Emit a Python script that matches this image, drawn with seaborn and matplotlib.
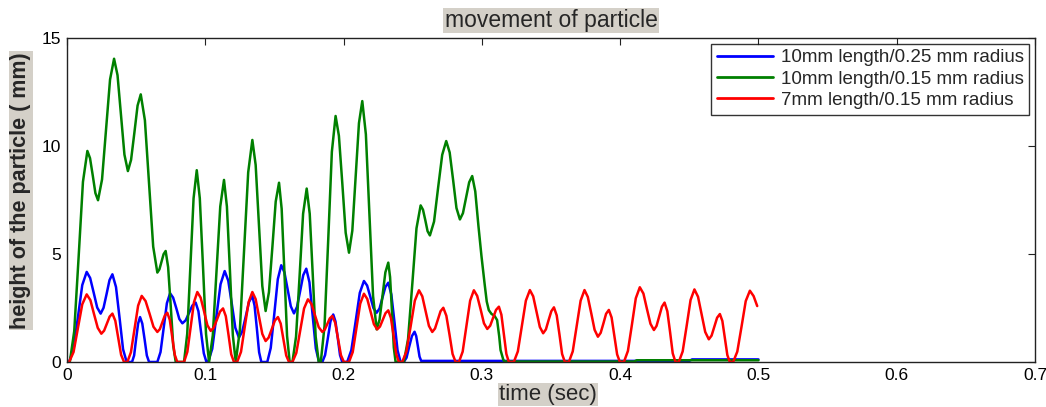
import numpy as np
import pandas as pd
import matplotlib
matplotlib.use("Agg")
import matplotlib.pyplot as plt
import seaborn as sns

# Particle height (mm) against time (s) for each electrode geometry

# 10 mm length / 0.25 mm radius
t_blue = [0.0, 0.0015, 0.0047, 0.0079, 0.011, 0.0142, 0.0167, 0.0193, 0.0218, 0.0243,
          0.0264, 0.0286, 0.0307, 0.0328, 0.0354, 0.038, 0.0405, 0.0431, 0.047, 0.0485,
          0.0499, 0.0514, 0.0528, 0.0544, 0.0561, 0.0577, 0.0593, 0.0653, 0.0676, 0.0699,
          0.0722, 0.0745, 0.0767, 0.079, 0.0812, 0.0834, 0.0858, 0.0882, 0.0906, 0.093,
          0.095, 0.0969, 0.0989, 0.1008, 0.102, 0.105, 0.108, 0.111, 0.114, 0.1166,
          0.1192, 0.1217, 0.1243, 0.1267, 0.1292, 0.1316, 0.134, 0.1356, 0.1373, 0.1389,
          0.1405, 0.1448, 0.1473, 0.1499, 0.1524, 0.1549, 0.1572, 0.1595, 0.1618, 0.1641,
          0.1663, 0.1686, 0.1708, 0.173, 0.1753, 0.1776, 0.1799, 0.1822, 0.1846, 0.1866,
          0.1886, 0.1905, 0.1925, 0.1941, 0.1958, 0.1974, 0.199, 0.2026, 0.2056, 0.2087,
          0.2117, 0.2147, 0.217, 0.2193, 0.2216, 0.2239, 0.226, 0.2281, 0.2302, 0.2323,
          0.2345, 0.2368, 0.239, 0.2412, 0.2435, 0.2455, 0.2474, 0.2494, 0.2513, 0.2525,
          0.2537, 0.2549, 0.2561, 0.450, 0.452, 0.500]
h_blue = [0.0, 0.0, 0.61, 2.09, 3.56, 4.17, 3.89, 3.20, 2.52, 2.24,
          2.51, 3.15, 3.79, 4.06, 3.47, 2.03, 0.59, 0.0, 0.0, 0.30,
          1.04, 1.78, 2.08, 1.78, 1.04, 0.30, 0.0, 0.0, 0.46, 1.59,
          2.72, 3.18, 2.98, 2.49, 1.99, 1.79, 1.93, 2.27, 2.61, 2.75,
          2.35, 1.38, 0.40, 0.0, 0.0, 0.61, 2.11, 3.60, 4.21, 3.76,
          2.67, 1.58, 1.13, 1.41, 2.10, 2.78, 3.06, 2.61, 1.53, 0.45,
          0.0, 0.0, 0.65, 2.24, 3.83, 4.48, 4.15, 3.37, 2.58, 2.25,
          2.55, 3.29, 4.02, 4.32, 3.69, 2.16, 0.63, 0.0, 0.0, 0.32,
          1.10, 1.88, 2.20, 1.88, 1.10, 0.32, 0.0, 0.0, 0.55, 1.88,
          3.20, 3.75, 3.54, 3.02, 2.49, 2.28, 2.48, 2.98, 3.47, 3.67,
          3.13, 1.84, 0.54, 0.0, 0.0, 0.20, 0.70, 1.20, 1.40, 1.20,
          0.73, 0.25, 0.05, 0.05, 0.12, 0.12]

# 10 mm length / 0.15 mm radius
t_green = [0.0, 0.002, 0.0052, 0.0084, 0.0115, 0.0147, 0.0166, 0.0186, 0.0205, 0.0224,
           0.0253, 0.0282, 0.0311, 0.034, 0.0365, 0.039, 0.0415, 0.044, 0.0463, 0.0487,
           0.051, 0.0533, 0.0563, 0.0593, 0.0623, 0.0653, 0.0668, 0.0683, 0.0698, 0.0713,
           0.0731, 0.075, 0.0768, 0.0786, 0.0846, 0.0869, 0.0892, 0.0915, 0.0938, 0.096,
           0.0983, 0.1005, 0.1027, 0.1054, 0.1081, 0.1108, 0.1135, 0.1156, 0.1178, 0.1199,
           0.122, 0.125, 0.128, 0.131, 0.134, 0.1364, 0.1388, 0.1412, 0.1436, 0.146,
           0.1485, 0.1509, 0.1533, 0.1552, 0.1572, 0.1591, 0.161, 0.163, 0.1656, 0.1682,
           0.1707, 0.1733, 0.1755, 0.1777, 0.1798, 0.182, 0.1835, 0.1862, 0.1889, 0.1915,
           0.1942, 0.1966, 0.1991, 0.2015, 0.2039, 0.2063, 0.2087, 0.2111, 0.2135, 0.2161,
           0.2187, 0.2213, 0.2239, 0.226, 0.2281, 0.2302, 0.2323, 0.2336, 0.235, 0.2363,
           0.2376, 0.2436, 0.2466, 0.2497, 0.2527, 0.2557, 0.2574, 0.2591, 0.2607, 0.2624,
           0.2654, 0.2683, 0.2713, 0.2742, 0.2767, 0.2792, 0.2816, 0.2841, 0.2863, 0.2886,
           0.2908, 0.293, 0.2952, 0.2975, 0.2997, 0.302, 0.3035, 0.305, 0.307, 0.309,
           0.311, 0.3125, 0.3135, 0.3155, 0.3164, 0.410, 0.412, 0.500]
h_green = [0.0, 0.0, 1.43, 4.89, 8.34, 9.77, 9.44, 8.63, 7.82, 7.49,
           8.45, 10.77, 13.08, 14.04, 13.28, 11.44, 9.60, 8.84, 9.36, 10.62,
           11.87, 12.39, 11.19, 8.27, 5.34, 4.14, 4.29, 4.64, 4.99, 5.14,
           4.39, 2.57, 0.75, 0.0, 0.0, 1.30, 4.44, 7.58, 8.88, 7.58,
           4.44, 1.30, 0.0, 1.23, 4.22, 7.20, 8.43, 7.20, 4.22, 1.23,
           0.0, 1.50, 5.14, 8.78, 10.28, 9.12, 6.32, 3.52, 2.36, 3.23,
           5.33, 7.43, 8.30, 7.09, 4.15, 1.21, 0.0, 0.0, 1.17, 4.02,
           6.86, 8.03, 6.86, 4.02, 1.17, 0.0, 0.0, 1.66, 5.70, 9.73,
           11.39, 10.47, 8.23, 5.98, 5.06, 6.08, 8.57, 11.06, 12.08, 10.54,
           6.80, 3.05, 1.51, 1.96, 3.06, 4.15, 4.60, 3.93, 2.30, 0.67,
           0.0, 0.0, 1.06, 3.63, 6.19, 7.25, 7.05, 6.56, 6.06, 5.86,
           6.50, 8.05, 9.59, 10.23, 9.70, 8.42, 7.13, 6.60, 6.89, 7.61,
           8.32, 8.61, 7.90, 6.30, 4.90, 3.60, 2.80, 2.40, 2.22, 2.15,
           1.94, 1.20, 0.55, 0.10, 0.02, 0.02, 0.08, 0.08]

# 7 mm length / 0.15 mm radius
t_red = [0.0, 0.0015, 0.0047, 0.0079, 0.011, 0.0142, 0.0169, 0.0195, 0.0222, 0.0248,
         0.0268, 0.0288, 0.0308, 0.0328, 0.0349, 0.037, 0.0391, 0.0412, 0.0436, 0.0462,
         0.0488, 0.0514, 0.054, 0.0568, 0.0597, 0.0625, 0.0653, 0.0671, 0.0689, 0.0707,
         0.0725, 0.0743, 0.0761, 0.0779, 0.0797, 0.0846, 0.087, 0.0894, 0.0918, 0.0942,
         0.0966, 0.0991, 0.1015, 0.1039, 0.1061, 0.1084, 0.1106, 0.1128, 0.1148, 0.1168,
         0.1187, 0.1207, 0.123, 0.1258, 0.1285, 0.1313, 0.134, 0.1364, 0.1388, 0.1412,
         0.1436, 0.1458, 0.1481, 0.1503, 0.1525, 0.1545, 0.1565, 0.1585, 0.1605, 0.163,
         0.1658, 0.1686, 0.1714, 0.1742, 0.1768, 0.1794, 0.182, 0.1846, 0.1864, 0.1882,
         0.19, 0.1918, 0.1939, 0.196, 0.1981, 0.2002, 0.2039, 0.2066, 0.2093, 0.212,
         0.2147, 0.2171, 0.2195, 0.2219, 0.2243, 0.2263, 0.2283, 0.2303, 0.2323, 0.2342,
         0.2362, 0.2381, 0.240, 0.2424, 0.2454, 0.2485, 0.2515, 0.2545, 0.2569, 0.2593,
         0.2617, 0.2641, 0.2661, 0.2681, 0.2701, 0.2721, 0.2743, 0.2766, 0.2788, 0.281,
         0.2834, 0.2861, 0.2888, 0.2915, 0.2942, 0.2966, 0.2991, 0.3015, 0.3039, 0.306,
         0.3081, 0.3102, 0.3123, 0.3141, 0.3159, 0.3177, 0.3195, 0.3231, 0.326, 0.3289,
         0.3318, 0.3347, 0.3371, 0.3395, 0.3419, 0.3443, 0.3463, 0.3482, 0.3502, 0.3521,
         0.3541, 0.3561, 0.358, 0.360, 0.3629, 0.3657, 0.3686, 0.3714, 0.3742, 0.3766,
         0.3791, 0.3815, 0.3839, 0.3859, 0.3879, 0.3898, 0.3918, 0.3938, 0.3958, 0.3978,
         0.3998, 0.4027, 0.4056, 0.4085, 0.4113, 0.4142, 0.4168, 0.4193, 0.4219, 0.4244,
         0.4263, 0.4283, 0.4302, 0.4321, 0.4341, 0.4361, 0.438, 0.440, 0.4424, 0.4452,
         0.4481, 0.4509, 0.4537, 0.4563, 0.4589, 0.4615, 0.4641, 0.4661, 0.4681, 0.4701,
         0.4721, 0.4739, 0.4757, 0.4775, 0.4793, 0.4817, 0.4847, 0.4878, 0.4908, 0.4938,
         0.4965, 0.4991]
h_red = [0.0, 0.0, 0.46, 1.57, 2.67, 3.13, 2.86, 2.22, 1.58, 1.31,
         1.45, 1.78, 2.10, 2.24, 1.91, 1.12, 0.33, 0.0, 0.0, 0.45,
         1.53, 2.61, 3.06, 2.82, 2.23, 1.63, 1.39, 1.52, 1.84, 2.15,
         2.28, 1.95, 1.14, 0.33, 0.0, 0.0, 0.47, 1.62, 2.77, 3.24,
         2.98, 2.34, 1.70, 1.44, 1.59, 1.96, 2.33, 2.48, 2.12, 1.24,
         0.36, 0.0, 0.0, 0.47, 1.62, 2.77, 3.24, 2.91, 2.11, 1.30,
         0.97, 1.13, 1.53, 1.92, 2.08, 1.78, 1.04, 0.30, 0.0, 0.0,
         0.42, 1.45, 2.48, 2.90, 2.68, 2.15, 1.61, 1.39, 1.50, 1.76,
         2.02, 2.13, 1.82, 1.07, 0.31, 0.0, 0.0, 0.46, 1.58, 2.70,
         3.16, 2.92, 2.34, 1.75, 1.51, 1.64, 1.95, 2.26, 2.39, 2.04,
         1.20, 0.35, 0.0, 0.0, 0.48, 1.66, 2.84, 3.32, 3.04, 2.36,
         1.67, 1.39, 1.55, 1.95, 2.35, 2.51, 2.14, 1.26, 0.37, 0.0,
         0.0, 0.48, 1.66, 2.84, 3.32, 3.06, 2.43, 1.79, 1.53, 1.68,
         2.05, 2.41, 2.56, 2.19, 1.28, 0.37, 0.0, 0.0, 0.49, 1.67,
         2.84, 3.33, 3.04, 2.33, 1.62, 1.33, 1.51, 1.93, 2.35, 2.53,
         2.16, 1.27, 0.37, 0.0, 0.0, 0.49, 1.67, 2.84, 3.33, 3.01,
         2.25, 1.49, 1.17, 1.35, 1.79, 2.23, 2.41, 2.06, 1.21, 0.35,
         0.0, 0.0, 0.51, 1.73, 2.95, 3.46, 3.17, 2.47, 1.77, 1.48,
         1.67, 2.12, 2.56, 2.75, 2.35, 1.38, 0.40, 0.0, 0.0, 0.49,
         1.68, 2.87, 3.36, 3.02, 2.21, 1.39, 1.05, 1.22, 1.64, 2.05,
         2.22, 1.90, 1.11, 0.32, 0.0, 0.0, 0.48, 1.65, 2.82, 3.30,
         3.05, 2.59]

series_names = ["10mm length/0.25 mm radius",
                "10mm length/0.15 mm radius",
                "7mm length/0.15 mm radius"]
series_colors = ["#0000ff", "#008000", "#ff0000"]

x_ticks = [0, 0.1, 0.2, 0.3, 0.4, 0.5, 0.6, 0.7]
x_tick_labels = ["0", "0.1", "0.2", "0.3", "0.4", "0.5", "0.6", "0.7"]
y_ticks = [0, 5, 10, 15]

frames = []
for name, tt, hh in zip(series_names,
                        [t_blue, t_green, t_red],
                        [h_blue, h_green, h_red]):
    frames.append(pd.DataFrame({"time": tt, "height": hh, "series": name}))
df = pd.concat(frames, ignore_index=True)

sns.set_style("white")
plt.rcParams["font.family"] = ["Liberation Sans", "DejaVu Sans"]

fig = plt.figure(figsize=(10.46, 4.07), dpi=100)
ax = fig.add_axes([0.0641, 0.1106, 0.9254, 0.796])

sns.lineplot(data=df, x="time", y="height", hue="series",
             palette=dict(zip(series_names, series_colors)),
             hue_order=series_names, sort=False, estimator=None,
             linewidth=1.8, ax=ax)

ax.set_xlim(0, 0.7)
ax.set_ylim(0, 15)
ax.set_xticks(x_ticks)
ax.set_xticklabels(x_tick_labels)
ax.set_yticks(y_ticks)
ax.tick_params(axis="both", direction="in", length=5, width=0.8,
               top=True, right=True, labelsize=12.5, colors="#222222",
               labelcolor="black", pad=4)
for sp in ax.spines.values():
    sp.set_color("#222222")
    sp.set_linewidth(1.0)

label_box = dict(facecolor="#d4d0c8", edgecolor="none", pad=1.0)
ax.set_title("movement of particle", fontsize=16.5, bbox=label_box, pad=8)
ax.set_xlabel("time (sec)", fontsize=16, bbox=label_box)
ax.xaxis.set_label_coords(0.497, -0.068)
ax.set_ylabel("height of the particle ( mm)", fontsize=15.5,
              fontweight="bold", bbox=label_box)
ax.yaxis.set_label_coords(-0.037, 0.53)

leg = ax.legend(loc="upper right", fontsize=13.5, frameon=True, fancybox=False,
                edgecolor="black", handlelength=3.0, handletextpad=0.4,
                labelspacing=0.22, borderpad=0.3, borderaxespad=0.3)
leg.get_frame().set_linewidth(1.0)
for line in leg.get_lines():
    line.set_linewidth(2.0)

fig.savefig("out.png", dpi=100, facecolor="white")
